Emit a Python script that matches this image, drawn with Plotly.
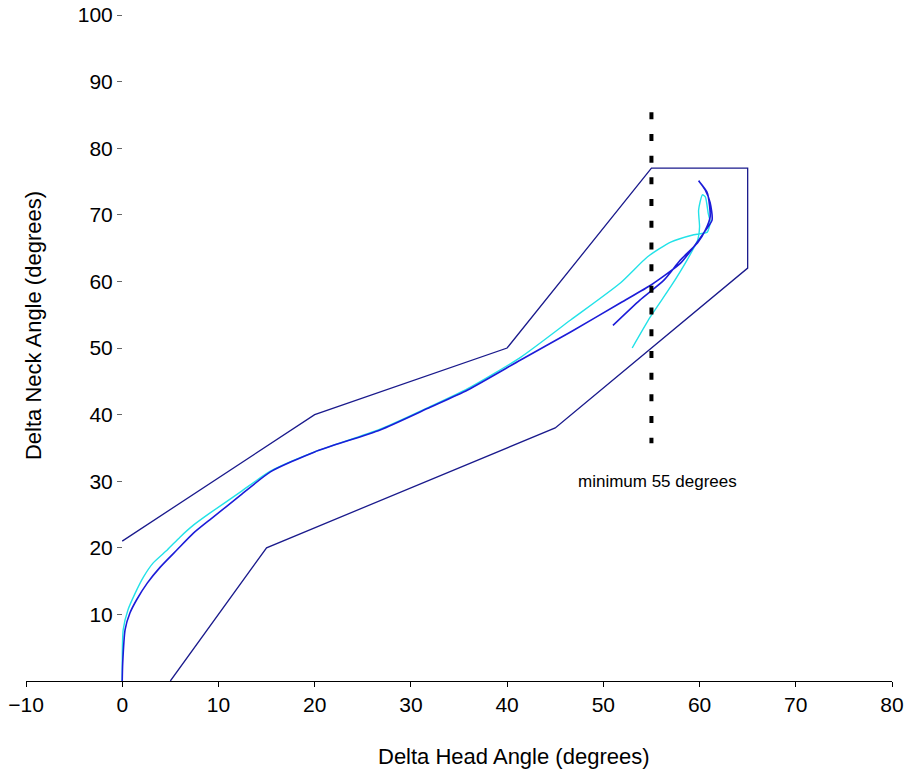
import plotly.graph_objects as go

# Envelope (boundary) polygon
env_x = [0, 20, 40, 55, 65, 65, 45, 15, 5]
env_y = [21, 40, 50, 77, 77, 62, 38, 20, 0]

# Blue trajectory
blue_x = [0, 0.05, 0.3, 0.8, 1.5, 2.6, 3.95, 5.7, 7.4, 9.1, 12.3, 15.4, 20, 26.8, 32, 35.9,
          41.4, 46.6, 51.8, 55, 58, 59.4, 60.4, 61.3, 61.1, 60.6, 59.9, 60.8, 61.1, 60.6,
          59.8, 58, 56.3, 53.8, 51]
blue_y = [0, 2.7, 7.7, 10.2, 12.2, 14.7, 17.1, 19.7, 22.2, 24.2, 27.9, 31.4, 34.4, 37.7, 41.1, 43.7,
          48.2, 52.4, 56.8, 59.5, 62.7, 65.2, 67.2, 69.2, 71.8, 73.7, 75.1, 73.3, 69.7, 67.7,
          65.8, 63.2, 60.2, 57.2, 53.4]

# Cyan trajectory
cyan_x = [0, 0.1, 0.6, 1.35, 2.2, 3.2, 4.7, 6, 7.4, 9.1, 12.3, 15.4, 20, 26.8, 32, 35.9,
          41.4, 46.6, 51.8, 54.6, 57, 59.4, 60.8, 61.1, 60.9, 60.6, 60.3, 59.9, 60, 59.8,
          58.7, 57, 54.9, 53]
cyan_y = [0, 7.7, 10.7, 13.2, 15.6, 17.7, 19.7, 21.6, 23.4, 25.2, 28.4, 31.5, 34.4, 37.8, 41.2, 43.9,
          48.6, 54.2, 59.8, 63.7, 65.9, 67, 67.4, 68.9, 70.2, 72.7, 73, 70.7, 68.2, 66.2,
          63.2, 59.2, 54.7, 50]

# Minimum threshold line
min_x = [55, 55]
min_y = [85.4, 35.7]

x_ticks = list(range(-10, 81, 10))
y_ticks = list(range(10, 101, 10))

FONT = "Liberation Sans, Arial, sans-serif"

fig = go.Figure()
fig.add_trace(go.Scatter(x=env_x, y=env_y, mode="lines",
                         line=dict(color="#1a1a8c", width=1.3), hoverinfo="skip"))
fig.add_trace(go.Scatter(x=cyan_x, y=cyan_y, mode="lines",
                         line=dict(color="#22e2e8", width=1.4, shape="spline", smoothing=0.6)))
fig.add_trace(go.Scatter(x=blue_x, y=blue_y, mode="lines",
                         line=dict(color="#1c1cd8", width=1.6, shape="spline", smoothing=0.6)))
fig.add_trace(go.Scatter(x=min_x, y=min_y, mode="lines",
                         line=dict(color="black", width=4, dash="7px,14.7px")))

fig.add_annotation(x=55.6, y=29.9, text="minimum 55 degrees", showarrow=False,
                   font=dict(family=FONT, size=17, color="black"))
fig.add_annotation(x=(33 - 26) / 866, y=0.533, xref="paper", yref="paper",
                   text="Delta Neck Angle (degrees)", textangle=-90, showarrow=False,
                   xanchor="center", yanchor="middle",
                   font=dict(family=FONT, size=22, color="black"))
fig.add_annotation(x=(514 - 26) / 866, y=-0.114, xref="paper", yref="paper",
                   text="Delta Head Angle (degrees)", showarrow=False,
                   xanchor="center", yanchor="middle",
                   font=dict(family=FONT, size=22, color="black"))

fig.update_layout(
    width=905, height=774,
    margin=dict(l=26, r=13, t=15, b=93, autoexpand=False),
    paper_bgcolor="white", plot_bgcolor="white",
    showlegend=False,
    font=dict(family=FONT, size=21, color="black"),
    xaxis=dict(range=[-10, 80], tickvals=x_ticks, showgrid=False, zeroline=False,
               showline=True, linecolor="black", linewidth=1, automargin=False,
               ticks="outside", ticklen=5, tickcolor="black",
               tickfont=dict(family=FONT, size=21, color="black")),
    yaxis=dict(range=[0, 100], tickvals=y_ticks, showgrid=False, zeroline=False,
               showline=False, anchor="free", position=(122 - 26) / 866, automargin=False,
               ticks="outside", ticklen=5, tickcolor="#666",
               tickfont=dict(family=FONT, size=21, color="black")),
)

fig.write_html("out.html")
